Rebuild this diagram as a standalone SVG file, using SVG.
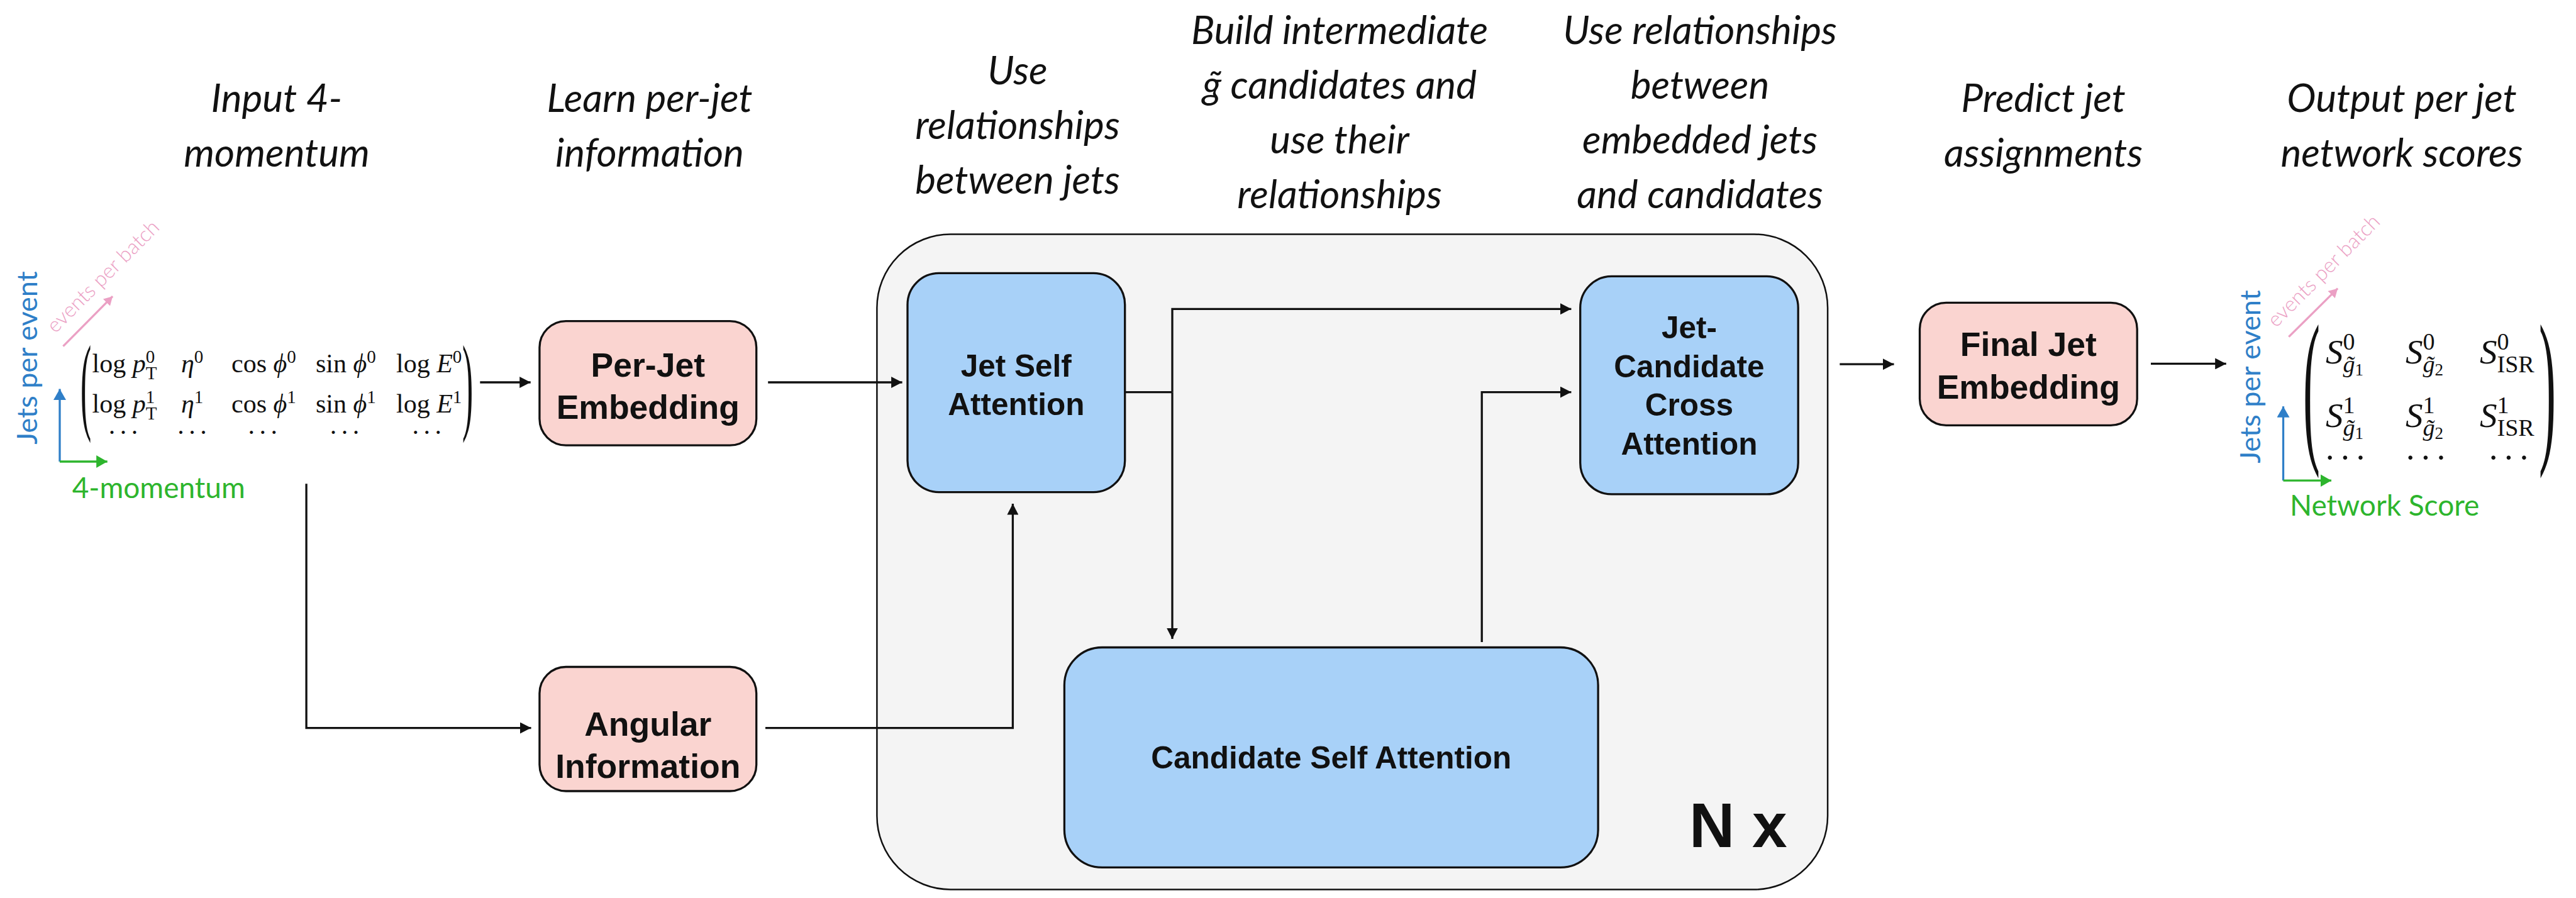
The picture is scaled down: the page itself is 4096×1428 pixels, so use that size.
<svg xmlns="http://www.w3.org/2000/svg" width="4096" height="1428" viewBox="0 0 4096 1428">
<style>
.hdr{font-family:Lato,"Open Sans",sans-serif;font-style:italic;font-size:62px;fill:#111;text-anchor:middle}
.pinkbox{fill:#fad4d0;stroke:#111;stroke-width:3.3}
.bluebox{fill:#a8d1f8;stroke:#111;stroke-width:3.3}
.lblp{font-family:"Liberation Sans",Arial,sans-serif;font-weight:bold;font-size:53.5px;fill:#111;text-anchor:middle}
.lblb{font-family:"Liberation Sans",Arial,sans-serif;font-weight:bold;font-size:49.5px;fill:#111;text-anchor:middle}
.conn{fill:none;stroke:#111;stroke-width:3.3}
.math{font-family:"Liberation Serif","DejaVu Serif",serif;fill:#111}
.blue{font-family:Lato,sans-serif;fill:#2f7fc8}
.green{font-family:Lato,sans-serif;fill:#2db52d}
.pink{font-family:Lato,sans-serif;font-weight:300;fill:#eba0c4}
</style>
<defs>
<marker id="ah" markerUnits="userSpaceOnUse" markerWidth="18" markerHeight="18" refX="17.5" refY="9" orient="auto"><path d="M0,0 L17.5,9 L0,18 Z" fill="#111"/></marker>
<marker id="ahb" markerUnits="userSpaceOnUse" markerWidth="20" markerHeight="20" refX="17.5" refY="10" orient="auto"><path d="M0,0 L17.5,10 L0,20 Z" fill="#2f7fc8"/></marker>
<marker id="ahg" markerUnits="userSpaceOnUse" markerWidth="20" markerHeight="20" refX="17.5" refY="10" orient="auto"><path d="M0,0 L17.5,10 L0,20 Z" fill="#2db52d"/></marker>
<marker id="ahp" markerUnits="userSpaceOnUse" markerWidth="16" markerHeight="16" refX="14" refY="8" orient="auto"><path d="M0,0 L14,8 L0,16 Z" fill="#eba0c4"/></marker>
</defs>
<rect width="4096" height="1428" fill="#fff"/>

<g id="headers" class="hdr">
<text x="440" y="178">Input 4-</text><text x="440" y="265">momentum</text>
<text x="1033" y="178">Learn per-jet</text><text x="1033" y="265">information</text>
<text x="1618" y="134">Use</text><text x="1618" y="221">relationships</text><text x="1618" y="308">between jets</text>
<text x="2130" y="70">Build intermediate</text><text x="2130" y="157">g̃ candidates and</text><text x="2130" y="244">use their</text><text x="2130" y="331">relationships</text>
<text x="2703" y="70">Use relationships</text><text x="2703" y="157">between</text><text x="2703" y="244">embedded jets</text><text x="2703" y="331">and candidates</text>
<text x="3249" y="178">Predict jet</text><text x="3249" y="265">assignments</text>
<text x="3819" y="178">Output per jet</text><text x="3819" y="265">network scores</text>
</g>

<g id="input-matrix">
<text class="blue" font-size="45" text-anchor="middle" transform="translate(59,569) rotate(-90)">Jets per event</text>
<line x1="95" y1="734" x2="95" y2="618.5" stroke="#2f7fc8" stroke-width="3.3" marker-end="url(#ahb)"/>
<line x1="95" y1="734" x2="170.7" y2="734" stroke="#2db52d" stroke-width="3.3" marker-end="url(#ahg)"/>
<text class="green" font-size="46" x="114.7" y="792">4-momentum</text>
<line x1="100.4" y1="550.7" x2="179.1" y2="471.2" stroke="#eba0c4" stroke-width="3.3" marker-end="url(#ahp)"/>
<text class="pink" font-size="33" transform="translate(88,531) rotate(-45)">events per batch</text>
<g class="math" font-size="42">
<text transform="translate(128,668) scale(0.3,1)" font-size="172">(</text>
<text transform="translate(735,668) scale(0.3,1)" font-size="172">)</text>
<text x="146.5" y="592">log <tspan font-style="italic">p</tspan><tspan dy="-15" font-size="29">0</tspan><tspan dx="-14.5" dy="26" font-size="29">T</tspan></text>
<text x="288" y="592"><tspan font-style="italic">η</tspan><tspan dy="-15" font-size="29">0</tspan></text>
<text x="368" y="592">cos <tspan font-style="italic">ϕ</tspan><tspan dy="-15" font-size="29">0</tspan></text>
<text x="502" y="592">sin <tspan font-style="italic">ϕ</tspan><tspan dy="-15" font-size="29">0</tspan></text>
<text x="630" y="592">log <tspan font-style="italic">E</tspan><tspan dy="-15" font-size="29">0</tspan></text>
<text x="146.5" y="656">log <tspan font-style="italic">p</tspan><tspan dy="-15" font-size="29">1</tspan><tspan dx="-14.5" dy="26" font-size="29">T</tspan></text>
<text x="288" y="656"><tspan font-style="italic">η</tspan><tspan dy="-15" font-size="29">1</tspan></text>
<text x="368" y="656">cos <tspan font-style="italic">ϕ</tspan><tspan dy="-15" font-size="29">1</tspan></text>
<text x="502" y="656">sin <tspan font-style="italic">ϕ</tspan><tspan dy="-15" font-size="29">1</tspan></text>
<text x="630" y="656">log <tspan font-style="italic">E</tspan><tspan dy="-15" font-size="29">1</tspan></text>
<g text-anchor="middle" letter-spacing="4">
<text x="198" y="702">···</text><text x="307.5" y="702">···</text><text x="419.7" y="702">···</text><text x="550" y="702">···</text><text x="680.8" y="702">···</text>
</g>
</g>
</g>

<g id="per-jet-embedding">
<rect class="pinkbox" x="857.9" y="510.6" width="344.8" height="197.5" rx="42"/>
<text class="lblp" x="1030.3" y="599.3">Per-Jet</text>
<text class="lblp" x="1030.3" y="666.3">Embedding</text>
</g>

<g id="angular-information">
<rect class="pinkbox" x="857.9" y="1060.5" width="344.8" height="197.5" rx="42"/>
<text class="lblp" x="1030.3" y="1170.2">Angular</text>
<text class="lblp" x="1030.3" y="1237.1">Information</text>
</g>

<g id="repeat-block">
<rect x="1394.4" y="372.5" width="1511.7" height="1042" rx="117" fill="#f4f4f4" stroke="#111" stroke-width="2.5"/>
<text x="2686" y="1346.7" font-family="'Liberation Sans',Arial,sans-serif" font-weight="bold" font-size="100" fill="#111">N x</text>
</g>

<g id="jet-self-attention">
<rect class="bluebox" x="1443" y="434.4" width="345.7" height="348.2" rx="50"/>
<text class="lblb" x="1615.8" y="598.5">Jet Self</text>
<text class="lblb" x="1615.8" y="659.6">Attention</text>
</g>

<g id="jet-candidate-cross-attention">
<rect class="bluebox" x="2512.7" y="439.4" width="346.5" height="346.5" rx="50"/>
<text class="lblb" x="2686" y="538.2">Jet-</text>
<text class="lblb" x="2686" y="599.7">Candidate</text>
<text class="lblb" x="2686" y="661.2">Cross</text>
<text class="lblb" x="2686" y="722.7">Attention</text>
</g>

<g id="candidate-self-attention">
<rect class="bluebox" x="1692.4" y="1029.5" width="848.7" height="349.9" rx="60"/>
<text class="lblb" x="2116.8" y="1222">Candidate Self Attention</text>
</g>

<g id="final-jet-embedding">
<rect class="pinkbox" x="3052.5" y="481.3" width="345.7" height="195" rx="42"/>
<text class="lblp" x="3225.3" y="565.9">Final Jet</text>
<text class="lblp" x="3225.3" y="633.7">Embedding</text>
</g>

<g id="output-matrix">
<text class="blue" font-size="45" text-anchor="middle" transform="translate(3594,599) rotate(-90)">Jets per event</text>
<line x1="3630.5" y1="764.2" x2="3630.5" y2="646.2" stroke="#2f7fc8" stroke-width="3.3" marker-end="url(#ahb)"/>
<line x1="3630.5" y1="764.2" x2="3707" y2="764.2" stroke="#2db52d" stroke-width="3.3" marker-end="url(#ahg)"/>
<text class="green" font-size="46" x="3641" y="820">Network Score</text>
<line x1="3639.3" y1="535.7" x2="3717.1" y2="458.7" stroke="#eba0c4" stroke-width="3.3" marker-end="url(#ahp)"/>
<text class="pink" font-size="33" transform="translate(3619,522) rotate(-45)">events per batch</text>
<g class="math" font-size="55">
<text transform="translate(3662,703) scale(0.3,1)" font-size="270">(</text>
<text transform="translate(4037,703) scale(0.3,1)" font-size="270">)</text>
<text x="3698" y="578.4"><tspan font-style="italic">S</tspan><tspan dy="-22" font-size="38">0</tspan><tspan dx="-19" dy="36" font-size="38" font-style="italic">g̃</tspan><tspan dy="5" font-size="27">1</tspan></text>
<text x="3825" y="578.4"><tspan font-style="italic">S</tspan><tspan dy="-22" font-size="38">0</tspan><tspan dx="-19" dy="36" font-size="38" font-style="italic">g̃</tspan><tspan dy="5" font-size="27">2</tspan></text>
<text x="3943" y="578.4"><tspan font-style="italic">S</tspan><tspan dy="-22" font-size="38">0</tspan><tspan dx="-19" dy="36" font-size="38">ISR</tspan></text>
<text x="3698" y="678.8"><tspan font-style="italic">S</tspan><tspan dy="-22" font-size="38">1</tspan><tspan dx="-19" dy="36" font-size="38" font-style="italic">g̃</tspan><tspan dy="5" font-size="27">1</tspan></text>
<text x="3825" y="678.8"><tspan font-style="italic">S</tspan><tspan dy="-22" font-size="38">1</tspan><tspan dx="-19" dy="36" font-size="38" font-style="italic">g̃</tspan><tspan dy="5" font-size="27">2</tspan></text>
<text x="3943" y="678.8"><tspan font-style="italic">S</tspan><tspan dy="-22" font-size="38">1</tspan><tspan dx="-19" dy="36" font-size="38">ISR</tspan></text>
<g text-anchor="middle" letter-spacing="6">
<text x="3732" y="746">···</text><text x="3860" y="746">···</text><text x="3992" y="746">···</text>
</g>
</g>
</g>

<g id="connectors" class="conn" marker-end="url(#ah)">
<path d="M763.3,608 H843.7"/>
<path d="M1221.2,608 H1434.6"/>
<path d="M487.1,769.2 V1157.6 H844.5"/>
<path d="M1217,1157.6 H1610.4 V801"/>
<path d="M1788.7,623.6 H1864" marker-end="none"/>
<path d="M1864,623.6 V491.3 H2498.4"/>
<path d="M1864,623.6 V1016.1"/>
<path d="M2356.2,1021.1 V623.6 H2498.4"/>
<path d="M2925.3,579.2 H3011.5"/>
<path d="M3420,578.4 H3539.7"/>
</g>
</svg>
